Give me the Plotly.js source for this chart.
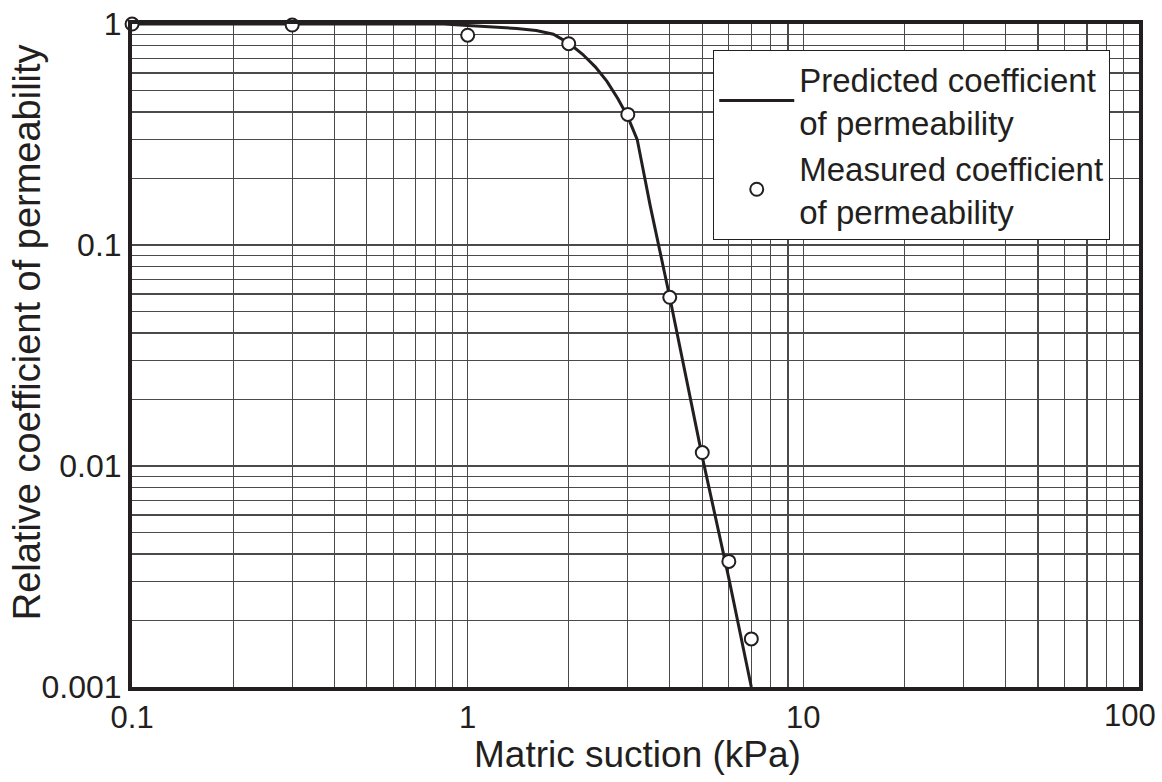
<!DOCTYPE html>
<html>
<head>
<meta charset="utf-8">
<script src="https://cdn.plot.ly/plotly-3.0.1.min.js"></script>
<style>html,body{margin:0;padding:0;background:#fff;}#chart{width:1162px;height:782px;}</style>
</head>
<body>
<div id="chart"></div>
<script>
// Predicted coefficient of permeability (line)
const predX = [0.1, 0.5, 0.85, 1.0, 1.2, 1.4, 1.6, 1.8, 2.0, 2.2, 2.4, 2.6, 2.8, 3.0, 3.2, 3.5, 4.0, 5.0, 6.0, 7.0];
const predY = [1.0, 1.0, 1.0, 0.985, 0.97, 0.955, 0.935, 0.9, 0.82, 0.73, 0.64, 0.55, 0.46, 0.38, 0.3, 0.15, 0.058, 0.011, 0.0031, 0.001];
// Measured coefficient of permeability (points)
const measX = [0.1, 0.3, 1, 2, 3, 4, 5, 6, 7];
const measY = [1.0, 0.99, 0.89, 0.815, 0.39, 0.058, 0.0115, 0.0037, 0.00165];
// Tick labels
const xTickVals = [0.1, 1, 10, 100];
const xTickText = ['0.1', '1', '10', '100'];
const yTickVals = [0.001, 0.01, 0.1, 1];
const yTickText = ['0.001', '0.01', '0.1', '1'];
const seriesNames = ['Predicted coefficient<br>of permeability', 'Measured coefficient<br>of permeability'];
const xTitle = 'Matric suction (kPa)';
const yTitle = 'Relative coefficient of permeability';

function minorVals(lo, hi) {
  const out = [];
  for (let e = lo; e < hi; e++) {
    for (let d = 2; d <= 9; d++) out.push(d * Math.pow(10, e));
  }
  return out;
}

const ink = '#231f20';
const gridCol = '#4a4a4a';
const font = 'Liberation Sans, Arial, Helvetica, sans-serif';
const lastX = xTickVals.length - 1;

const traces = [
  {
    x: predX, y: predY, type: 'scatter', mode: 'lines', name: seriesNames[0],
    line: {color: ink, width: 3}, cliponaxis: false
  },
  {
    x: measX, y: measY, type: 'scatter', mode: 'markers', name: seriesNames[1],
    marker: {symbol: 'circle', size: 13, color: '#ffffff', line: {color: ink, width: 2}},
    cliponaxis: false
  }
];

const layout = {
  width: 1162, height: 782,
  margin: {l: 132, r: 23, t: 24, b: 95},
  paper_bgcolor: '#ffffff', plot_bgcolor: '#ffffff',
  font: {family: font, color: ink, size: 32},
  showlegend: true,
  legend: {
    x: 0.577, y: 0.961, xanchor: 'left', yanchor: 'top',
    bgcolor: '#ffffff', bordercolor: ink, borderwidth: 1.2,
    font: {family: font, size: 33, color: ink},
    itemwidth: 75, tracegroupgap: 2
  },
  xaxis: {
    type: 'log', range: [-1.0002, 2.0002], autorange: false,
    tickmode: 'array', tickvals: xTickVals.slice(0, lastX), ticktext: xTickText.slice(0, lastX),
    ticks: '', tickfont: {size: 31, color: ink},
    showgrid: true, gridcolor: gridCol, gridwidth: 1.2,
    minor: {tickmode: 'array', tickvals: minorVals(-1, 2), showgrid: true, gridcolor: gridCol, gridwidth: 1.2, ticks: ''},
    showline: true, linecolor: ink, linewidth: 4, mirror: true,
    zeroline: false, automargin: false
  },
  yaxis: {
    type: 'log', range: [-3.0002, 0.0002], autorange: false,
    tickmode: 'array', tickvals: yTickVals, ticktext: yTickText,
    ticks: '', tickfont: {size: 32, color: ink}, ticklabeloverflow: 'allow',
    showgrid: true, gridcolor: gridCol, gridwidth: 1.2,
    minor: {tickmode: 'array', tickvals: minorVals(-3, 0), showgrid: true, gridcolor: gridCol, gridwidth: 1.2, ticks: ''},
    showline: true, linecolor: ink, linewidth: 4, mirror: true,
    zeroline: false, automargin: false
  },
  annotations: [
    {
      text: yTitle, xref: 'paper', yref: 'paper', x: 0, y: 0.535,
      xanchor: 'center', yanchor: 'middle', xshift: -105, textangle: -90,
      showarrow: false, font: {family: font, size: 38, color: ink}
    },
    {
      text: xTitle, xref: 'paper', yref: 'paper', x: 0.502, y: 0,
      xanchor: 'center', yanchor: 'middle', yshift: -67,
      showarrow: false, font: {family: font, size: 37, color: ink}
    },
    {
      // last x tick label, kept inside the page like the reference
      text: xTickText[lastX], xref: 'x', yref: 'paper', x: Math.log10(xTickVals[lastX]), y: 0,
      xanchor: 'right', yanchor: 'middle', xshift: 19, yshift: -28,
      showarrow: false, font: {family: font, size: 31, color: ink}
    }
  ]
};

Plotly.newPlot('chart', traces, layout, {displayModeBar: false, staticPlot: true});
</script>
</body>
</html>
